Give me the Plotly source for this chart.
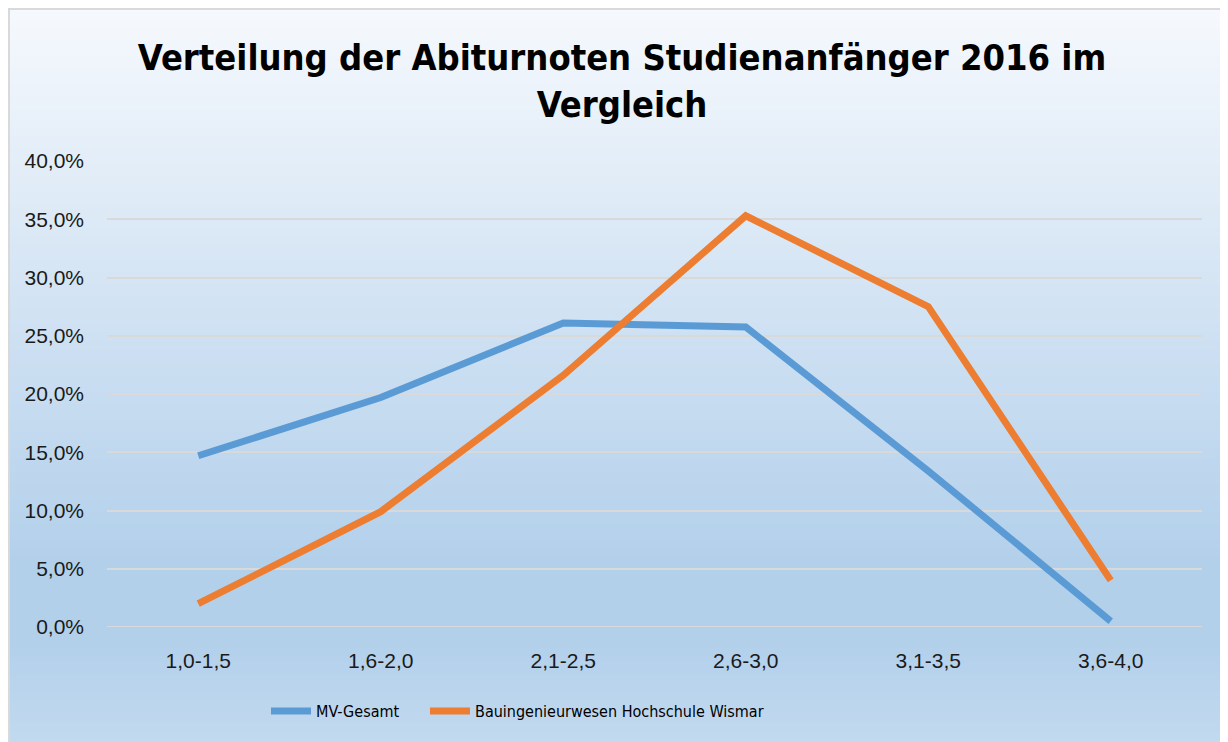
import plotly.graph_objects as go

categories = ["1,0-1,5", "1,6-2,0", "2,1-2,5", "2,6-3,0", "3,1-3,5", "3,6-4,0"]
mv_gesamt = [0.147, 0.197, 0.261, 0.2575, 0.134, 0.005]
bau_wismar = [0.020, 0.099, 0.216, 0.353, 0.275, 0.040]
y_ticks = [0.0, 0.05, 0.10, 0.15, 0.20, 0.25, 0.30, 0.35, 0.40]
y_tick_labels = ["0,0%", "5,0%", "10,0%", "15,0%", "20,0%", "25,0%", "30,0%", "35,0%", "40,0%"]

W, H = 1228, 742
L, R, T, B = 99, 34, 153, 123
PW, PH = W - L - R, H - T - B


def px_x(px):
    return (px - L) / PW


def px_y(py):
    return (H - B - py) / PH


def hex2rgb(h):
    h = h.lstrip("#")
    return [int(h[i:i + 2], 16) for i in (0, 2, 4)]


stops = [(0, "#f6f9fd"), (552, "#b3d0eb"), (637, "#b3d0eb"), (760, "#c6dcf0")]


def color_at(y):
    for (y0, c0), (y1, c1) in zip(stops[:-1], stops[1:]):
        if y0 <= y <= y1:
            t = (y - y0) / (y1 - y0) if y1 > y0 else 0
            a, b = hex2rgb(c0), hex2rgb(c1)
            return "rgb(%d,%d,%d)" % tuple(round(a[i] + (b[i] - a[i]) * t) for i in range(3))
    return stops[-1][1]


shapes = []
band = 3
y = 0
while y < H:
    y2 = min(y + band, H)
    shapes.append(dict(type="rect", xref="paper", yref="paper", layer="below",
                       x0=px_x(0), x1=px_x(W), y0=px_y(y2 + 0.5), y1=px_y(y),
                       fillcolor=color_at(y + band / 2), line=dict(width=0)))
    y = y2
shapes.append(dict(type="line", xref="paper", yref="paper", layer="below",
                   x0=px_x(0), x1=px_x(W), y0=px_y(1), y1=px_y(1),
                   line=dict(color="#d9d9d9", width=2)))
shapes.append(dict(type="line", xref="paper", yref="paper", layer="below",
                   x0=px_x(1), x1=px_x(1), y0=px_y(0), y1=px_y(H),
                   line=dict(color="#d9d9d9", width=2)))

fig = go.Figure()
fig.add_trace(go.Scatter(x=categories, y=mv_gesamt, mode="lines", name="MV-Gesamt",
                         line=dict(color="#5b9bd5", width=7), legend="legend"))
fig.add_trace(go.Scatter(x=categories, y=bau_wismar, mode="lines",
                         name="Bauingenieurwesen Hochschule Wismar",
                         line=dict(color="#ed7d31", width=7), legend="legend2"))

legend_font = dict(family="DejaVu Sans Condensed, Arial", size=16, color="black")

fig.update_layout(
    width=W, height=H,
    margin=dict(l=L, r=R, t=T, b=B, pad=0),
    paper_bgcolor="white",
    plot_bgcolor="rgba(0,0,0,0)",
    shapes=shapes,
    title=dict(text="Verteilung der Abiturnoten Studienanfänger 2016 im<br>Vergleich",
               x=0.5, xanchor="center", xref="container",
               y=1 - 62 / H, yanchor="middle", yref="container",
               font=dict(family="DejaVu Sans Condensed, Arial", size=36,
                         color="black", weight="bold")),
    showlegend=True,
    legend=dict(orientation="h", x=px_x(258), xanchor="left", y=px_y(703), yanchor="middle",
                bgcolor="rgba(0,0,0,0)", font=legend_font, itemwidth=40),
    legend2=dict(orientation="h", x=px_x(417), xanchor="left", y=px_y(703), yanchor="middle",
                 bgcolor="rgba(0,0,0,0)", font=legend_font, itemwidth=40),
    font=dict(family="Liberation Sans, Arial", size=21, color="#1a1a1a"),
)
fig.update_xaxes(range=[-0.5, 5.5], showgrid=False, zeroline=False, showline=False,
                 ticks="", ticklabelstandoff=19, tickfont=dict(size=21, color="#1a1a1a"))
fig.update_yaxes(range=[0, 0.40], tickvals=y_ticks, ticktext=y_tick_labels,
                 showgrid=True, gridcolor="#d9d9d9", gridwidth=2, zeroline=False,
                 showline=False, ticks="", ticklabelstandoff=22,
                 tickfont=dict(size=21, color="#1a1a1a"))
fig.add_shape(type="line", xref="paper", yref="y", x0=0, x1=1, y0=0, y1=0,
              line=dict(color="#d9d9d9", width=2), layer="below")

fig.write_html("out.html")
